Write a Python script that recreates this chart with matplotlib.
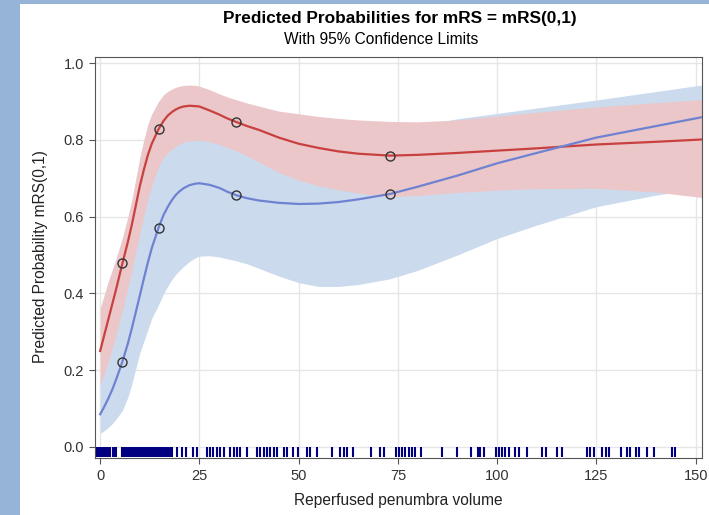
import matplotlib
matplotlib.use("Agg")
import matplotlib.pyplot as plt
from matplotlib.patches import Rectangle

plt.rcParams['font.family'] = ['Liberation Sans', 'DejaVu Sans']

# x grid of read-off values
x = [0, 1, 2, 3, 4, 5.6, 7, 8, 9, 10, 11, 12, 13, 14.7, 16, 17, 18, 19, 20, 21, 22.5, 24, 25,
     27.5, 30, 32, 34.2, 37, 40, 45, 50, 55, 60, 65, 73, 80, 90, 100, 110, 125, 140, 151.5]

# group 1 (red)
red_p = [0.25, 0.29, 0.33, 0.37, 0.41, 0.478, 0.535, 0.58, 0.63, 0.68, 0.722, 0.76, 0.79, 0.828,
         0.85, 0.863, 0.872, 0.879, 0.884, 0.887, 0.889, 0.888, 0.887, 0.877, 0.866, 0.856,
         0.847, 0.836, 0.826, 0.806, 0.79, 0.779, 0.77, 0.764, 0.759, 0.761, 0.766, 0.772,
         0.778, 0.788, 0.795, 0.801]
red_hi = [0.362, 0.395, 0.43, 0.46, 0.49, 0.545, 0.60, 0.645, 0.70, 0.755, 0.80, 0.84, 0.868,
          0.90, 0.918, 0.926, 0.932, 0.937, 0.94, 0.942, 0.943, 0.942, 0.94, 0.931, 0.92, 0.912,
          0.905, 0.896, 0.888, 0.875, 0.868, 0.861, 0.856, 0.852, 0.848, 0.847, 0.852, 0.862,
          0.872, 0.886, 0.897, 0.905]
red_lo = [0.161, 0.19, 0.22, 0.255, 0.29, 0.355, 0.415, 0.46, 0.508, 0.555, 0.60, 0.645, 0.68,
          0.73, 0.755, 0.766, 0.775, 0.783, 0.79, 0.794, 0.797, 0.799, 0.80, 0.795, 0.788, 0.78,
          0.772, 0.758, 0.742, 0.715, 0.695, 0.68, 0.67, 0.661, 0.652, 0.655, 0.663, 0.669,
          0.673, 0.674, 0.664, 0.65]

# group 2 (blue)
blue_p = [0.085, 0.104, 0.125, 0.148, 0.175, 0.222, 0.27, 0.31, 0.352, 0.395, 0.438, 0.48, 0.518,
          0.571, 0.605, 0.625, 0.642, 0.656, 0.666, 0.674, 0.682, 0.686, 0.687, 0.683, 0.675,
          0.665, 0.656, 0.648, 0.642, 0.636, 0.633, 0.634, 0.638, 0.645, 0.659, 0.678, 0.707,
          0.739, 0.766, 0.806, 0.836, 0.859]
blue_hi = [0.17, 0.205, 0.24, 0.275, 0.31, 0.37, 0.43, 0.48, 0.53, 0.58, 0.627, 0.67, 0.705,
           0.745, 0.775, 0.787, 0.797, 0.803, 0.807, 0.81, 0.812, 0.812, 0.811, 0.808, 0.805,
           0.802, 0.80, 0.80, 0.80, 0.80, 0.80, 0.805, 0.81, 0.815, 0.825, 0.837, 0.855, 0.869,
           0.883, 0.904, 0.926, 0.943]
blue_lo = [0.035, 0.042, 0.05, 0.06, 0.072, 0.095, 0.13, 0.165, 0.205, 0.245, 0.275, 0.305, 0.335,
           0.37, 0.40, 0.418, 0.435, 0.449, 0.46, 0.47, 0.483, 0.493, 0.497, 0.498, 0.495, 0.49,
           0.485, 0.477, 0.465, 0.445, 0.428, 0.418, 0.418, 0.423, 0.438, 0.46, 0.50, 0.543,
           0.578, 0.626, 0.656, 0.674]

# observed points (circles)
pts_x = [5.6, 14.7, 34.2, 73]
red_pts = [0.478, 0.828, 0.847, 0.759]
blue_pts = [0.222, 0.571, 0.656, 0.659]

# rug of observed volumes
rug = [-0.8, -0.4, 0, 0.4, 0.8, 1.2, 1.6, 2, 2.4, 3.2, 3.6, 4.1, 5.4, 5.8, 6.2, 6.6, 7, 7.5,
       8, 8.5, 9, 9.5, 10, 10.5, 11, 11.5, 12, 12.5, 13, 13.5, 14, 14.5, 15, 15.5, 16, 16.5,
       17, 17.5, 18,
       19.3, 20.6, 21.7, 23.5, 24.4, 26.9, 27.7, 28.5, 29.4, 30.2, 31.1, 32.8, 33.6, 34.5,
       35.3, 37.0, 39.5, 40.3, 41.2, 42.0, 42.9, 43.7, 44.5, 46.2, 47.0, 48.7, 49.9, 52.1,
       52.9, 54.6, 58.4, 60.5, 61.3, 62.2, 63.8, 68.1, 70.6, 71.4, 74.4, 75.2, 76.1, 76.9,
       77.7, 78.6, 79.2, 80.8, 86.1, 89.9, 93.5, 95.1, 95.8, 96.6, 99.8, 100.4, 101.3,
       102.1, 102.9, 104.4, 105.4, 107.4, 111.3, 112.2, 115.1, 116.4, 122.7, 123.5, 124.5,
       126.5, 127.3, 128.1, 131.1, 132.8, 133.4, 134.9, 135.7, 137.8, 139.5, 144.1, 144.9]

fig = plt.figure(figsize=(7.09, 5.15), dpi=100, facecolor='#95b4d8')
fig.add_artist(Rectangle((20 / 709, 0), 1, 511 / 515, transform=fig.transFigure,
                         facecolor='white', edgecolor='none', zorder=-10))

ax = fig.add_axes([95 / 709, 57 / 515, 607 / 709, 401 / 515])
ax.set_facecolor('white')

ax.fill_between(x, blue_lo, blue_hi, color='#cbdbed', lw=0, zorder=1)
ax.fill_between(x, red_lo, red_hi, color='#ebc7c9', lw=0, zorder=2)
ax.plot(x, red_p, color='#c8403f', lw=1.6, zorder=3)
ax.plot(x, blue_p, color='#6f82d2', lw=1.6, zorder=3)
ax.plot(pts_x, red_pts, 'o', mfc='none', mec='#333333', ms=6.5, mew=1, zorder=4)
ax.plot(pts_x, blue_pts, 'o', mfc='none', mec='#333333', ms=6.5, mew=1, zorder=4)
ax.vlines(rug, -0.027, -0.001, color='#000080', lw=1.5, zorder=4)

ax.set_xlim(-1.3, 151.6)
ax.set_ylim(-0.029, 1.016)
ax.set_xticks([0, 25, 50, 75, 100, 125, 150])
ax.set_yticks([0, 0.2, 0.4, 0.6, 0.8, 1.0])
ax.set_yticklabels(['0.0', '0.2', '0.4', '0.6', '0.8', '1.0'])
ax.grid(True, color='#e6e6e6', lw=1)
ax.set_axisbelow(True)
ax.tick_params(direction='out', length=4, pad=4, color='#555555', labelcolor='#333333',
               labelsize=10.5)
for s in ax.spines.values():
    s.set_color('#555555')

fig.text(400 / 709, 1 - 19 / 515, 'Predicted Probabilities for mRS = mRS(0,1)',
         ha='center', va='center', fontsize=12.4, fontweight='bold')
fig.text(381 / 709, 1 - 40 / 515, 'With 95% Confidence Limits',
         ha='center', va='center', fontsize=11.2)
fig.text(41 / 709, 1 - 257 / 515, 'Predicted Probability mRS(0,1)', rotation=90,
         ha='center', va='center', fontsize=11.2, color='#222222')
fig.text(398 / 709, 1 - 500 / 515, 'Reperfused penumbra volume',
         ha='center', va='center', fontsize=11.2, color='#222222')

fig.savefig('out.png', dpi=100, facecolor=fig.get_facecolor())
